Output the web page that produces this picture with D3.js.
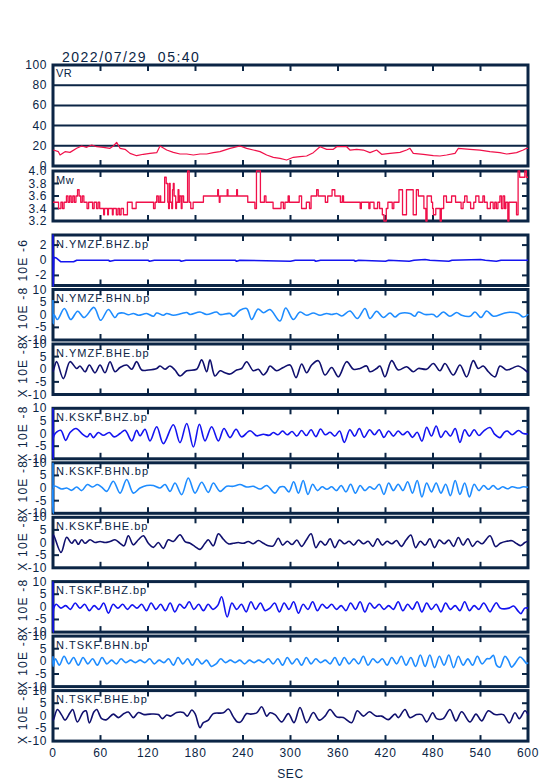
<!DOCTYPE html>
<html><head><meta charset="utf-8">
<script src="https://cdn.jsdelivr.net/npm/d3@7"></script>
<style>
body{margin:0;background:#fff}
svg{display:block}
text{font-family:"Liberation Sans",Arial,sans-serif;fill:#0b2545}
</style></head>
<body><svg id="c" width="554" height="781"></svg>
<script>
// ---------------- DATA ----------------
const title = "2022/07/29  05:40";
const xTicks = [0,60,120,180,240,300,360,420,480,540,600];
const vrTicks = [0,20,40,60,80,100];
const vrGrid = [20,40,60,80];
const mwTicks = [3.2,3.4,3.6,3.8,4.0];
const mwInner = [3.4,3.6,3.8];
const seisTicks = [-10,-5,0,5,10];
const seisInner = [-5,5];
const bhzTicks = [-2,0,2];

const vr = [[0.5,15.8],[6.8,14.2],[8.9,10.9],[15.2,14.2],[21.5,13.5],[29.9,17.5],[36.2,19.8],[42.6,18.5],[48.9,20.8],[55.2,19.1],[63.6,18.5],[72,17.5],[76.2,19.8],[80.4,23.4],[84.7,17.5],[91,16.5],[97.3,12.5],[105.7,10.2],[114.1,11.6],[122.5,12.5],[131,13.2],[135.2,19.8],[143.6,15.8],[152,13.5],[160.4,11.9],[168.9,11.9],[177.3,10.9],[185.7,11.9],[194.1,11.9],[202.5,13.2],[210.9,14.2],[223.6,17.5],[236.2,19.8],[244.6,17.5],[253,15.8],[261.5,14.2],[269.9,10.9],[278.3,8.6],[286.7,7.6],[295.1,5.9],[303.6,8.6],[312,9.2],[320.4,9.9],[328.8,13.2],[337.3,19.1],[345.7,16.5],[354.1,16.5],[358.3,19.1],[364.6,19.1],[370.9,19.1],[375.1,15.8],[383.6,16.5],[392,15.8],[400.4,13.2],[408.8,15.8],[415.1,11.6],[425.7,12.5],[438.3,13.5],[446.7,15.8],[450.9,17.5],[455.1,12.5],[467.8,11.6],[480.4,10.2],[488.8,9.9],[497.2,10.9],[507.8,12.5],[512,17.5],[526.7,16.5],[539.3,15.8],[551.9,14.2],[564.5,13.2],[573,11.9],[585.6,13.2],[594,15.8],[598.3,17.5],[600,17.5]];

const mw = [[0,3.5],[7,3.4],[10,3.5],[12,3.4],[14,3.5],[17,3.6],[19,3.5],[21,3.6],[23,3.5],[25,3.6],[27,3.5],[29,3.6],[31,3.7],[33,3.6],[35,3.5],[37,3.6],[39,3.5],[43,3.4],[45,3.5],[50,3.4],[52,3.5],[55,3.4],[57,3.5],[59,3.4],[64,3.3],[65,3.4],[69,3.3],[70,3.4],[75,3.3],[76,3.4],[80,3.3],[82,3.4],[84,3.3],[86,3.4],[89,3.3],[94,3.5],[100,3.4],[105,3.5],[127,3.4],[129,3.5],[131,3.6],[133,3.5],[135,3.6],[136,3.5],[141,3.9],[143,3.8],[145,3.5],[146,3.4],[147,3.8],[148,3.5],[150,3.4],[151,3.7],[152,3.8],[153,3.6],[155,3.4],[156,3.5],[158,3.7],[159,3.5],[160,3.6],[162,3.4],[163,3.6],[165,3.5],[170,4.0],[172,3.5],[174,3.4],[177,3.5],[190,3.6],[208,3.7],[209,3.6],[210,3.5],[211,3.6],[220,3.7],[221,3.6],[232,3.7],[233,3.6],[246,3.5],[255,3.4],[257,4.0],[262,3.5],[267,3.6],[269,3.5],[278,3.4],[288,3.5],[291,3.4],[293,3.5],[297,3.6],[298.5,3.5],[311,3.6],[314,3.4],[320,3.5],[324,3.4],[326,3.6],[333,3.7],[335,3.6],[344,3.5],[347,3.6],[352.5,3.7],[356,3.6],[363,3.5],[365.5,3.6],[367,3.5],[388,3.4],[389.5,3.5],[399,3.4],[400.4,3.5],[405.5,3.4],[410,3.5],[412.5,3.4],[416,3.3],[418,3.2],[421,3.4],[423,3.5],[428.5,3.4],[430.5,3.5],[437,3.7],[441.5,3.3],[446.5,3.7],[455,3.3],[459,3.7],[461.5,3.6],[468.5,3.4],[471,3.2],[472.5,3.6],[478,3.5],[479.5,3.4],[480.5,3.3],[483.5,3.4],[489,3.2],[490.5,3.4],[493.5,3.6],[497,3.5],[503.5,3.6],[508.5,3.5],[515.5,3.4],[518,3.5],[520,3.6],[523,3.5],[527.5,3.4],[531.5,3.5],[534,3.6],[538,3.5],[543,3.6],[545,3.5],[548.5,3.4],[552.5,3.5],[556,3.4],[558,3.5],[560,3.4],[562,3.5],[564.5,3.6],[566.5,3.4],[568.5,3.6],[570.5,3.4],[572,3.5],[574.5,3.2],[576,3.5],[585.5,3.3],[587.5,4.0],[589.5,3.9],[596,4.0],[598,3.9],[600,3.9]];

const ymzfBHZ = [[0,3.4],[0.3,-3.4],[1,0.4],[4,0.3],[7,0.05],[10,-0.2],[26,-0.2],[30,0],[70,0],[72,-0.13],[78,0],[120,0],[122,-0.13],[128,0],[160,0],[162,-0.13],[168,0],[230,0],[232,-0.13],[236,0],[300,-0.13],[306,0],[330,0],[332,-0.13],[338,0],[380,0],[382,-0.13],[386,0],[420,-0.13],[424,0],[450,-0.13],[456,0],[470,0.1],[476,0],[500,-0.13],[504,0],[540,0.1],[546,0],[560,-0.13],[566,0],[600,0]];

const ymzfBHN = [[0,5.8],[0.3,-3.5],[1.3,0],[5.5,-1.9],[14.4,2.5],[22.4,-1.9],[31.2,1.4],[39.2,-1.1],[51.8,2.9],[60.2,-2.2],[70,2.1],[78.3,-1.1],[82.6,0.5],[88.9,0.7],[95.2,0],[101.5,0.5],[107.8,-0.2],[118.3,0.5],[126.8,-0.6],[131,0.7],[139.4,-0.2],[143.6,0.5],[152,-0.2],[162.5,0.5],[168.9,0.9],[173.1,0.1],[185.7,1.1],[194.1,0.1],[206.7,1.1],[211,0.1],[223.6,0.5],[227.8,-0.6],[236.2,1.8],[244.6,2.5],[251,-1.9],[259,2.3],[266,0.8],[274,2.1],[286.7,-2.5],[293.9,2.7],[303.6,-1.9],[312,1.1],[320.4,-0.2],[328.8,0.7],[337.3,-0.2],[345.7,0.5],[352,0.1],[358.3,0.5],[364.6,-0.5],[375.1,1.5],[384.4,-1.5],[394.1,2.5],[400.4,-1.5],[408.8,1.4],[417.2,-1.1],[425.7,0.7],[432,-0.9],[438.3,0.5],[451,0.5],[457.2,-0.6],[461.4,1.1],[469.9,0.1],[480.4,0.1],[484.6,-0.9],[493,1.1],[501.4,-0.6],[509.9,0.9],[516.2,-0.2],[526.7,-0.6],[533,1.1],[540.6,-1.1],[547.7,1.5],[556.2,-0.6],[568.8,0.5],[577.2,1],[587.7,0.5],[594.1,-0.9],[600.4,0.2]];

const ymzfBHE = [[0,-1],[1.3,0.4],[4.7,3.0],[13.1,-3.7],[21.5,3.0],[29.9,0.3],[34.1,1.3],[40.5,-1.0],[45.9,1.7],[53.1,-1.4],[59.4,1.7],[65.7,-1.4],[72,3.0],[78.3,-1.0],[84.7,0.7],[93.1,1.7],[99.4,0],[105.7,3.0],[112,-0.3],[120.4,-0.3],[131,0.3],[135.2,1.3],[141.5,0],[147.8,1.3],[154.1,-0.3],[160.4,-2.7],[168.9,-0.6],[181.5,0],[187.8,3.7],[194.1,-1.0],[198.3,3.7],[204.6,-2.7],[211,-0.6],[217.3,-1.4],[223.6,-1.9],[232,-0.3],[238.3,0.3],[244.6,3.0],[253,-0.6],[259.4,0],[265.7,-2.3],[270,-1.0],[274.1,1.3],[282.5,-0.6],[290.9,0.7],[299.4,1.7],[307,-3.3],[314.1,2.1],[320.4,-1.4],[326.7,1.7],[335.1,3.4],[343.6,-2.3],[352,0.7],[360.4,-3.0],[370.9,3.0],[379.4,0],[387.8,0.3],[396.2,1.3],[400.4,-1.0],[408.8,0.3],[413,1.3],[419.3,-3.0],[427.8,3.4],[436.2,-0.3],[446.7,1.0],[455.1,-1.0],[461.4,0.3],[471.9,0],[480.4,2.3],[488.8,-0.6],[495.1,2.3],[505.6,-2.3],[514.1,1.7],[522.5,-3.0],[530.9,3.4],[537.2,0.3],[543.5,1.3],[549.9,-1.0],[558.3,-3.0],[564.6,1.3],[573,-0.3],[579.3,0.3],[587.7,1.3],[596.2,-0.3],[600.4,-1.4]];

const kskfBHZ = [[0,10],[0.3,-10],[1.3,-0.7],[9.7,1.3],[16,-2.7],[21.5,0.4],[29.1,2.0],[37.5,-0.3],[43.4,-1.3],[46.8,0],[51,-1.6],[57.3,0.4],[63.6,-0.7],[71.2,0.4],[77.1,-1.3],[84.7,0],[91,1.3],[99.4,-2.9],[105.7,1.3],[109.9,-0.9],[116.2,1.7],[122.5,-2.9],[131,2.7],[139.4,-4.0],[152,3.5],[160.4,-3.6],[168.9,4.0],[177.3,-5.3],[184.9,3.7],[192,-2.9],[200.4,2.7],[208.9,-2.9],[216,2.0],[223.6,-1.6],[231.2,1.7],[238.3,-1.3],[248.9,1.1],[257.3,-0.9],[265.7,-0.3],[273.3,-0.7],[278.3,0.4],[284,-0.5],[290,1],[296,-0.5],[302,0.8],[308,-1],[314,1.2],[320,-0.8],[326,1.5],[332,-1.2],[338,1.8],[344,-0.5],[350,0.5],[356,-1],[362,1],[368,-3.5],[375,1.5],[381,-1],[387,2],[393,-1.5],[400,1.5],[406,-0.5],[412,1.5],[418,-1.5],[424,1],[430,-1],[436,1],[442,-0.5],[448,0.8],[454,-1.5],[460,0.5],[466,-3],[472,2.5],[478,-1],[484,3],[490,-1.5],[496,1],[502,-1],[508,2],[514,-3.5],[520,1.5],[526,-1],[532,1.5],[538,-0.8],[544,1],[552,2.4],[558,-0.3],[564.6,-1.6],[570,0.5],[574,1],[580,-0.5],[588,1.2],[594,0],[600,-0.2]];

const kskfBHN = [[0,10],[0.3,-10],[1.3,0.7],[11,-0.4],[17.3,0],[23.6,-0.9],[29.9,0.4],[36.2,-1],[43.4,1.4],[50.1,0.4],[56,1.4],[61.5,0.4],[67.8,-1.3],[76.2,2.7],[84.7,-2],[93.1,3.4],[101.5,-2],[109.9,0],[118.3,1],[126.8,1],[135.2,0],[141.5,1.4],[147.8,-1.3],[154.1,2],[162.5,-2.6],[170.9,4],[179.4,-2],[187.8,2.3],[196.2,-1.7],[202.5,2],[211,-1.3],[219.4,0.7],[227.8,0.7],[236.2,1.4],[244.6,0.4],[253,0.7],[261.5,-0.4],[269.9,1],[280.4,-2],[286.7,0.4],[292,0.5],[298,-1.5],[304,2.5],[310,-2],[316,3],[322,-2.5],[328,1.5],[334,-1],[340,0.5],[346,-0.5],[352,0.5],[358,-1],[364,1],[370,-1.5],[376,1.5],[382,-2],[388,1],[394,-1],[400,0.5],[406,-0.5],[412,1.5],[418,-2.5],[424,2],[430,-1],[436,1.5],[442,-1],[448,2.5],[454,-2],[460,3],[466,-3.5],[472,2],[478,-1.5],[484,2],[490,-2],[496,1.5],[502,-3],[508,3],[514,-2.5],[520,2],[526,-3.5],[532,1.5],[538,-1],[544,1],[550,-0.5],[556,1],[562,-0.5],[568,0.5],[574,-0.3],[580,0.5],[588,0],[594,0.5],[600,0.3]];

const kskfBHE = [[0,-1],[0.5,3.1],[10.1,-3.9],[17.3,2.1],[23.6,-0.3],[27.8,1.1],[32,-0.7],[36.2,1.1],[40.5,-0.3],[46.8,1.1],[53.1,0],[59.4,0.4],[65.7,0],[72,0.4],[78.3,1.1],[84.7,-0.3],[89.7,-1.3],[95.2,2.7],[101.5,-0.9],[107.8,1.1],[114.1,2.7],[120.4,-0.3],[126.8,-1.9],[133.1,0],[139.4,-2.3],[145.7,1.1],[152,0.4],[160.4,3.1],[166.8,0.4],[173.1,-0.3],[179.4,-1.6],[185.7,-2.7],[192,-0.3],[196.2,1.1],[202.5,-1.3],[208.9,3.5],[215.2,1.3],[221.5,-0.5],[227.8,-0.3],[234.1,0],[240.4,-0.3],[246.7,0.4],[253,-0.5],[259.4,0.8],[265.7,-0.3],[272,-1.3],[278.3,-1.3],[284.6,1.7],[290,-1],[296,0.5],[302,-0.8],[308,1],[314,-1.5],[320,1],[326,3.5],[332,-2],[338,0.5],[344,-1],[350,1.5],[356,-2],[362,1],[368,-0.5],[374,0.5],[380,-1],[386,1],[392,-0.5],[398,0.5],[404,-1.5],[410,1.5],[416,-1],[422,0.5],[428,-0.5],[434,0.8],[440,-1.5],[446,1],[452,3],[458,-2],[464,0.5],[470,-1],[476,1.5],[482,-2],[488,1],[494,-0.5],[500,1],[506,-1.5],[512,2],[518,-1],[524,1.5],[530,-1.5],[536,0.5],[542,-0.5],[552,2.7],[559,-1.6],[565,-0.3],[573,0.5],[580,0.7],[586,-0.5],[591,-1.2],[596,0],[600,0.5]];

const tskfBHZ = [[0,10],[0.3,-10],[1,-0.5],[4,1],[10,-0.5],[16,0.5],[22,-1],[28,1.5],[34,-0.5],[40,1],[46,-1.5],[52,0.5],[58,-1],[64,1.5],[70,-2.5],[76,1],[82,-0.5],[88,1],[94,-1],[100,0.8],[106,-0.5],[112,1],[118,-1.5],[124,1.5],[130,-1],[136,1],[142,-1.5],[148,1.5],[154,-2],[160,1],[166,-0.5],[172,2],[178,-1],[184,1],[190,-1.5],[196,1],[202,-1],[208,0.5],[213,4],[220,-4],[226,1.5],[232,-1],[238,1],[244,-2],[250,2],[256,-1],[262,1.5],[268,-1.5],[274,-0.5],[280,1.5],[286,-2],[292,1.5],[298,-1],[304,2],[310,-2.5],[316,1],[322,-1],[328,2],[334,-1.5],[340,1],[346,-0.5],[352,1],[358,-1],[364,0.5],[370,-1.5],[376,1.5],[382,-1],[388,2],[394,-2],[400,1.5],[406,-0.5],[412,1],[418,-1],[424,0.5],[430,-1],[436,2],[442,-1.5],[448,1],[454,-1],[460,2],[466,-2],[472,1.5],[478,-1],[484,1],[490,-2],[496,1.5],[502,-1],[508,0.5],[514,-1.5],[520,2],[526,-1.5],[532,0.5],[538,-1],[544,1.5],[552,-2],[556,0],[560,1.6],[565,-0.5],[570,-0.8],[576,-0.5],[582,0.3],[587,-1.5],[591,-2.7],[596,-0.5],[600,-0.5]];

const tskfBHN = [[0,2],[0.3,-2],[3,1],[8,-1.5],[14,2],[20,-1],[26,1.5],[32,-1.5],[38,1.5],[44,-1],[50,1],[56,-1.5],[62,1.5],[68,-1],[74,0.5],[80,-1],[86,1],[92,-0.5],[98,0.5],[104,-0.5],[110,0.5],[116,-0.5],[122,1],[128,-1],[134,0.5],[140,-0.5],[146,1],[152,-1.5],[158,1.5],[164,-1],[170,1],[176,-1.5],[182,1],[188,-1],[194,0.5],[200,-2],[206,-1],[212,1],[218,-0.5],[224,0.5],[230,-0.5],[236,0.5],[242,-1],[248,0.5],[254,-0.5],[260,0.5],[266,-0.5],[272,1],[278,-1],[284,1],[290,-1.5],[296,1.5],[302,-1],[308,1],[314,-1.5],[320,1.5],[326,-1],[332,1],[338,-0.5],[344,0.5],[350,-1],[356,1.5],[362,-1.5],[368,1.5],[374,-1],[380,1],[386,-1],[392,2],[398,-1.5],[404,1],[410,-0.5],[416,1],[422,-1.5],[428,1.5],[434,-1],[440,2],[446,-1.5],[452,1.5],[458,-2],[464,2.5],[470,-2],[476,2.5],[482,-2.5],[488,2],[494,-1.5],[500,2.5],[506,-2.5],[512,2],[518,-1.5],[524,1],[530,-1.5],[536,2],[542,-1],[548,1],[552,1.1],[556.2,2.4],[560.4,-1.6],[564.6,-2.3],[570.9,2],[575.1,0.4],[579.3,-2.3],[583.5,-0.9],[589.9,1.7],[594.1,0.7],[598.3,-0.9],[600,-0.5]];

const tskfBHE = [[0,-1],[0.5,-1.7],[5.5,2.5],[11,0.3],[15.2,-1.7],[21.5,1.2],[24.9,2.5],[30.8,-2.4],[38.3,1.6],[41.7,2.0],[45.9,-2.8],[51.8,1.6],[55.2,2.5],[61.5,-1.1],[67.8,-1.5],[76.2,0.7],[82.6,-0.7],[89.7,0.9],[95.2,1.5],[101.5,-0.7],[107.8,1.3],[115,0.5],[122.5,0.7],[133.1,0.5],[138.1,-1.1],[143.6,0.3],[148.6,-0.1],[156.2,1.3],[164.6,1.3],[169.7,-0.1],[175.2,2.3],[179.4,0.9],[185.7,-4.7],[189.9,-2.7],[196.2,-1.7],[202.5,0.9],[215.2,1.2],[221.5,2.7],[227.8,-0.4],[232.9,-2.4],[237.1,-2.4],[244.6,0.9],[249.6,0.7],[257.3,1.2],[263.6,3.6],[269.9,-0.1],[274.1,1.2],[280.4,0.5],[288.8,-2.4],[297.3,0.9],[304.4,-2.7],[312,3.3],[320.4,-2.7],[328.8,1.3],[336.4,-1.7],[343.6,-0.1],[349.9,2.5],[358.3,-0.4],[366.7,-0.7],[377.2,-2.7],[384.4,2.0],[392,-0.1],[399.6,1.6],[408,-0.1],[415.1,-0.1],[423.6,-1.5],[432,0.7],[436.2,-0.7],[444.6,2.5],[450.9,-0.7],[459.3,0.5],[465.7,0.5],[472,-2.4],[479.6,1.2],[484.6,-1.1],[493,-1.1],[501.4,2.5],[509,-2],[516.2,1.6],[526.7,-2.4],[534.3,0.7],[541.4,-2],[549.9,2.0],[558.3,0.5],[568.8,0.5],[576.4,-2.8],[583.5,1.2],[589,-1.1],[596.2,2.0],[600.4,0.3]];

const stationNames = ["N.YMZF.BHZ.bp","N.YMZF.BHN.bp","N.YMZF.BHE.bp","N.KSKF.BHZ.bp","N.KSKF.BHN.bp","N.KSKF.BHE.bp","N.TSKF.BHZ.bp","N.TSKF.BHN.bp","N.TSKF.BHE.bp"];
const stationData = [ymzfBHZ,ymzfBHN,ymzfBHE,kskfBHZ,kskfBHN,kskfBHE,tskfBHZ,tskfBHN,tskfBHE];
const unitLabels = ["10E -6","X 10E -8","X 10E -8","X 10E -8","X 10E -8","X 10E -8","X 10E -8","X 10E -8","X 10E -8"];

// ---------------- LAYOUT / STYLE ----------------
const X0 = 53, X1 = 528;
const NAVY = "#0b2545";
const compColor = {BHZ:"#1414f0", BHN:"#1e8cff", BHE:"#10106e"};
const svg = d3.select("#c");
const x = d3.scaleLinear().domain([0,600]).range([X0,X1]);
let clipN = 0;

svg.append("text").attr("x",62).attr("y",62).style("font-size","14px")
  .style("letter-spacing","1.5px").style("white-space","pre").text(title);

function drawPanel(c){
  const y = d3.scaleLinear().domain(c.domain).range([c.bottom,c.top]);
  const g = svg.append("g");
  const id = "clip"+(clipN++);
  svg.append("clipPath").attr("id",id).append("rect")
    .attr("x",X0-1.5).attr("y",c.top-1.5).attr("width",X1-X0+3).attr("height",c.bottom-c.top+3);
  if(c.grid){
    g.selectAll(null).data(c.grid).join("line")
      .attr("x1",X0).attr("x2",X1).attr("y1",d=>y(d)).attr("y2",d=>y(d))
      .attr("stroke",NAVY).attr("stroke-width",2);
  }
  g.append("rect").attr("x",X0).attr("y",c.top).attr("width",X1-X0).attr("height",c.bottom-c.top)
    .attr("fill","none").attr("stroke",NAVY).attr("stroke-width",3);
  const xt = xTicks.slice(1,-1);
  g.selectAll(null).data(xt).join("line").attr("x1",d=>x(d)).attr("x2",d=>x(d))
    .attr("y1",c.top).attr("y2",c.top+6).attr("stroke",NAVY).attr("stroke-width",2);
  g.selectAll(null).data(xt).join("line").attr("x1",d=>x(d)).attr("x2",d=>x(d))
    .attr("y1",c.bottom).attr("y2",c.bottom-6).attr("stroke",NAVY).attr("stroke-width",2);
  if(c.inner){
    g.selectAll(null).data(c.inner).join("line").attr("x1",X1).attr("x2",X1-6)
      .attr("y1",d=>y(d)).attr("y2",d=>y(d)).attr("stroke",NAVY).attr("stroke-width",2);
    g.selectAll(null).data(c.inner).join("line").attr("x1",X0).attr("x2",X0+6)
      .attr("y1",d=>y(d)).attr("y2",d=>y(d)).attr("stroke",NAVY).attr("stroke-width",2);
  }
  g.selectAll(null).data(c.ticks).join("text")
    .attr("x",47).attr("y",d=>y(d)).attr("text-anchor","end").attr("dominant-baseline","central")
    .style("font-size","12px").style("letter-spacing","0.6px").text(c.fmt);
  const line = d3.line().x(d=>x(d[0])).y(d=>y(d[1])).curve(c.curve);
  g.append("path").datum(c.data).attr("clip-path",`url(#${id})`).attr("d",line)
    .attr("fill","none").attr("stroke",c.color).attr("stroke-width",c.width).attr("stroke-linejoin","round");
  g.append("text").attr("x",X0+3).attr("y",c.top+c.labelDy).style("font-size","11px")
    .style("letter-spacing",c.labelLs).text(c.label);
  if(c.unit){
    g.append("text").attr("transform",`translate(27,${(c.top+c.bottom)/2}) rotate(-90)`)
      .attr("text-anchor","middle").style("font-size","12px").style("letter-spacing","1.2px")
      .style("white-space","pre").text(c.unit);
  }
  return y;
}

drawPanel({top:65,bottom:166,domain:[0,100],grid:vrGrid,ticks:vrTicks,fmt:d=>d,
  data:vr,curve:d3.curveLinear,color:"#f0104a",width:1.2,label:"VR",labelDy:12,labelLs:"0.5px"});
drawPanel({top:171,bottom:221,domain:[3.2,4.0],inner:mwInner,ticks:mwTicks,fmt:d3.format(".1f"),
  data:mw,curve:d3.curveStepAfter,color:"#f0104a",width:1.3,label:"Mw",labelDy:13,labelLs:"0.5px"});

stationNames.forEach((name,i)=>{
  const grp = Math.floor(i/3), k = i%3;
  const top = 235 + grp*173.3 + k*54.5;
  const comp = name.split(".")[2];
  const isFirst = i===0;
  drawPanel({top:top,bottom:top+50.5,
    domain:isFirst?[-3.33,3.33]:[-10,10],
    inner:isFirst?[-2,2]:seisInner,
    ticks:isFirst?bhzTicks:seisTicks,
    fmt:d=>d<0?"-"+Math.abs(d):String(d),
    data:stationData[i],curve:isFirst?d3.curveLinear:d3.curveCatmullRom.alpha(0.5),
    color:compColor[comp],width:1.6,label:name,labelDy:12.5,labelLs:"1px",unit:unitLabels[i]});
});

const lastBottom = 235 + 2*173.3 + 2*54.5 + 50.5;
svg.selectAll(null).data(xTicks).join("text")
  .attr("x",d=>x(d)).attr("y",lastBottom+16).attr("text-anchor","middle")
  .style("font-size","12px").style("letter-spacing","0.6px").text(d=>d);
svg.append("text").attr("x",(X0+X1)/2).attr("y",778).attr("text-anchor","middle")
  .style("font-size","12px").style("letter-spacing","0.6px").text("SEC");
</script>
</body></html>
